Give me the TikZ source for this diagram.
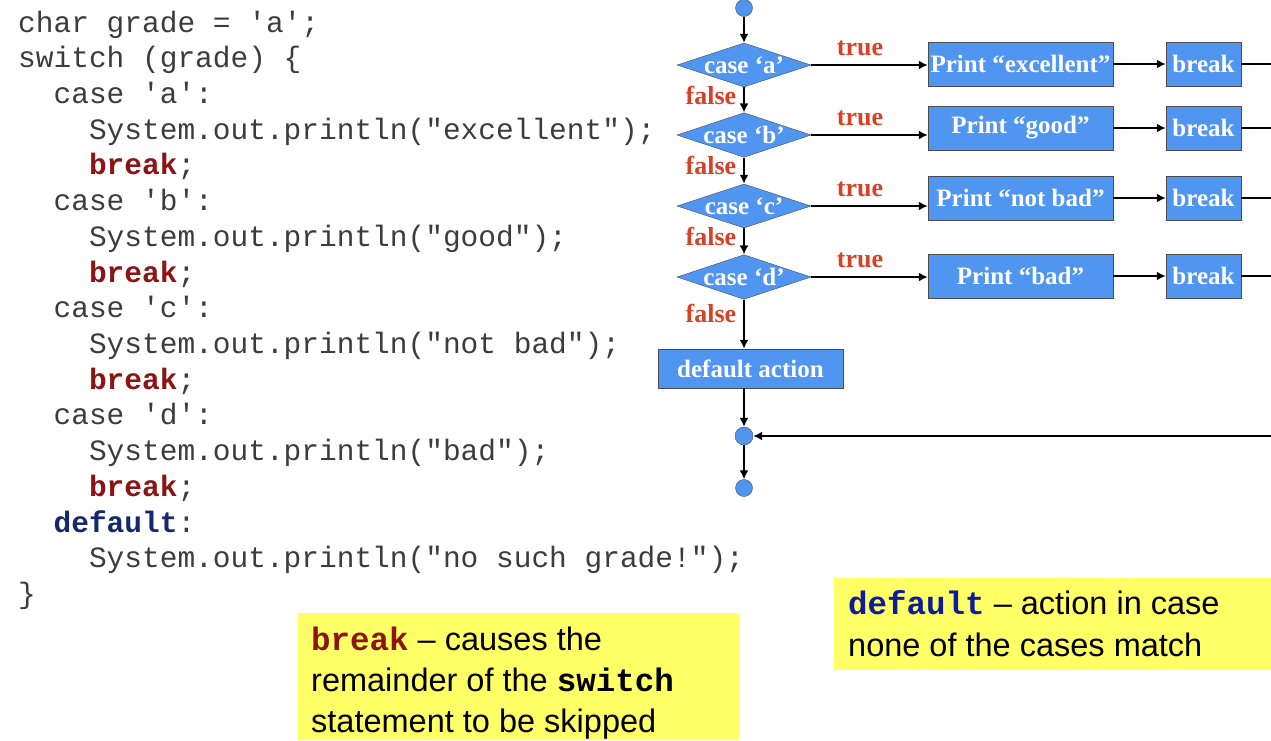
\documentclass[tikz,border=0pt]{standalone}
\usepackage{fontspec}
\setmainfont{Liberation Serif}
\newfontfamily\codef{Liberation Mono}
\newfontfamily\sansf{Liberation Sans}
\usetikzlibrary{shapes.geometric,arrows.meta}
\definecolor{fc}{RGB}{80,150,240}
\definecolor{lr}{RGB}{215,65,40}
\definecolor{kw}{RGB}{140,20,20}
\definecolor{nv}{RGB}{20,40,110}
\definecolor{yl}{RGB}{255,255,102}
\definecolor{cg}{RGB}{60,60,60}
\newcommand{\kb}[1]{\textbf{\color{kw}#1}}
\begin{document}
\begin{tikzpicture}[x=1pt,y=-1pt,
 dia/.style={diamond,aspect=3,fill=fc,draw=black!70,inner sep=0pt,minimum width=134pt,minimum height=44pt,text=white,font=\fontsize{25}{25}\selectfont\bfseries},
 box/.style={rectangle,fill=fc,draw=black!70,text=white,inner sep=0pt,font=\fontsize{25}{25}\selectfont\bfseries},
 dot/.style={circle,fill=fc,draw=black!70,inner sep=0pt,minimum size=18pt},
 lab/.style={text=lr,font=\fontsize{26}{26}\selectfont\bfseries},
 ar/.style={line width=2.6pt,-{Latex[length=9pt,width=9pt]}},
 ln/.style={line width=2.6pt},
 code/.style={anchor=base west,font=\codef\fontsize{29.5}{29.5}\selectfont,text=cg,inner sep=0pt}]
\useasboundingbox (0,0) rectangle (1271,740);
% code
\foreach \t [count=\i] in {{char grade = 'a';},{switch (grade) \{},{\ \ case 'a':},{\ \ \ \ System.out.println("excellent");},{\ \ \ \ \kb{break};},{\ \ case 'b':},{\ \ \ \ System.out.println("good");},{\ \ \ \ \kb{break};},{\ \ case 'c':},{\ \ \ \ System.out.println("not bad");},{\ \ \ \ \kb{break};},{\ \ case 'd':},{\ \ \ \ System.out.println("bad");},{\ \ \ \ \kb{break};},{\ \ \textbf{\color{nv}default}:},{\ \ \ \ System.out.println("no such grade!");},{\}}}
 \node[code] (c\i) at (18,{24+35.72*(\i-1)+8}) {\t};
% flowchart
\node[dot,minimum size=17pt] (s) at (744,8) {};
\node[dia] (da) at (744,65) {case `a'};
\node[dia] (db) at (744,135) {case `b'};
\node[dia] (dc) at (744,206) {case `c'};
\node[dia] (dd) at (744,277) {case `d'};
\node[box,minimum width=185pt,minimum height=44pt] (pa) at (1020.5,64) {Print ``excellent''};
\node[box,minimum width=185pt,minimum height=44pt] (pb) at (1020.5,128) {Print ``good''};
\node[box,minimum width=185pt,minimum height=44pt] (pc) at (1020.5,198) {Print ``not bad''};
\node[box,minimum width=185pt,minimum height=44pt] (pd) at (1020.5,276) {Print ``bad''};
\foreach \n/\y in {a/64,b/128,c/198,d/276}
 \node[box,minimum width=75pt,minimum height=44pt] (b\n) at (1203.5,\y) {break};
\node[box,minimum width=185pt,minimum height=39pt] (def) at (750.5,368.5) {default action};
\node[dot] (j) at (744,436) {};
\node[dot,minimum size=17pt] (e) at (744,488) {};
\draw[ar] (s) -- (da);
\draw[ar] (da) -- (db);
\draw[ar] (db) -- (dc);
\draw[ar] (dc) -- (dd);
\draw[ar] (dd) -- (def.north -| dd);
\draw[ar] (def.south -| j) -- (j);
\draw[ar] (j) -- (e);
\foreach \n in {a,b,c,d}{
 \draw[ar] (d\n.east) -- (p\n.west |- d\n.east);
 \draw[ar] (p\n.east |- b\n.west) -- (b\n.west);
 \coordinate (r\n) at (1271,0);
 \draw[ln] (b\n.east) -- (r\n |- b\n.east);}
\coordinate (rj) at (1271,436);
\draw[ar] (rj) -- (j);
\foreach \y in {48,118,189,260} \node[lab] at (860,\y) {true};
\foreach \y in {95,165,236,313} \node[lab] at (711,\y) {false};
% notes
\fill[yl] (298,613) rectangle (739,740);
\fill[yl] (834,578) rectangle (1271,670);
\begin{scope}[every node/.style={anchor=base west,inner sep=0pt,font=\sansf\fontsize{32.5}{32.5}\selectfont}]
\node (n1) at (311,650) {{\codef\bfseries\color{kw}break} – causes the};
\node (n2) at (311,691) {remainder of the {\codef\bfseries switch}};
\node (n3) at (311,732) {statement to be skipped};
\node (n4) at (848,614) {{\codef\bfseries\color{nv!70!blue}default} – action in case};
\node (n5) at (848,656) {none of the cases match};
\end{scope}
\end{tikzpicture}
\end{document}
